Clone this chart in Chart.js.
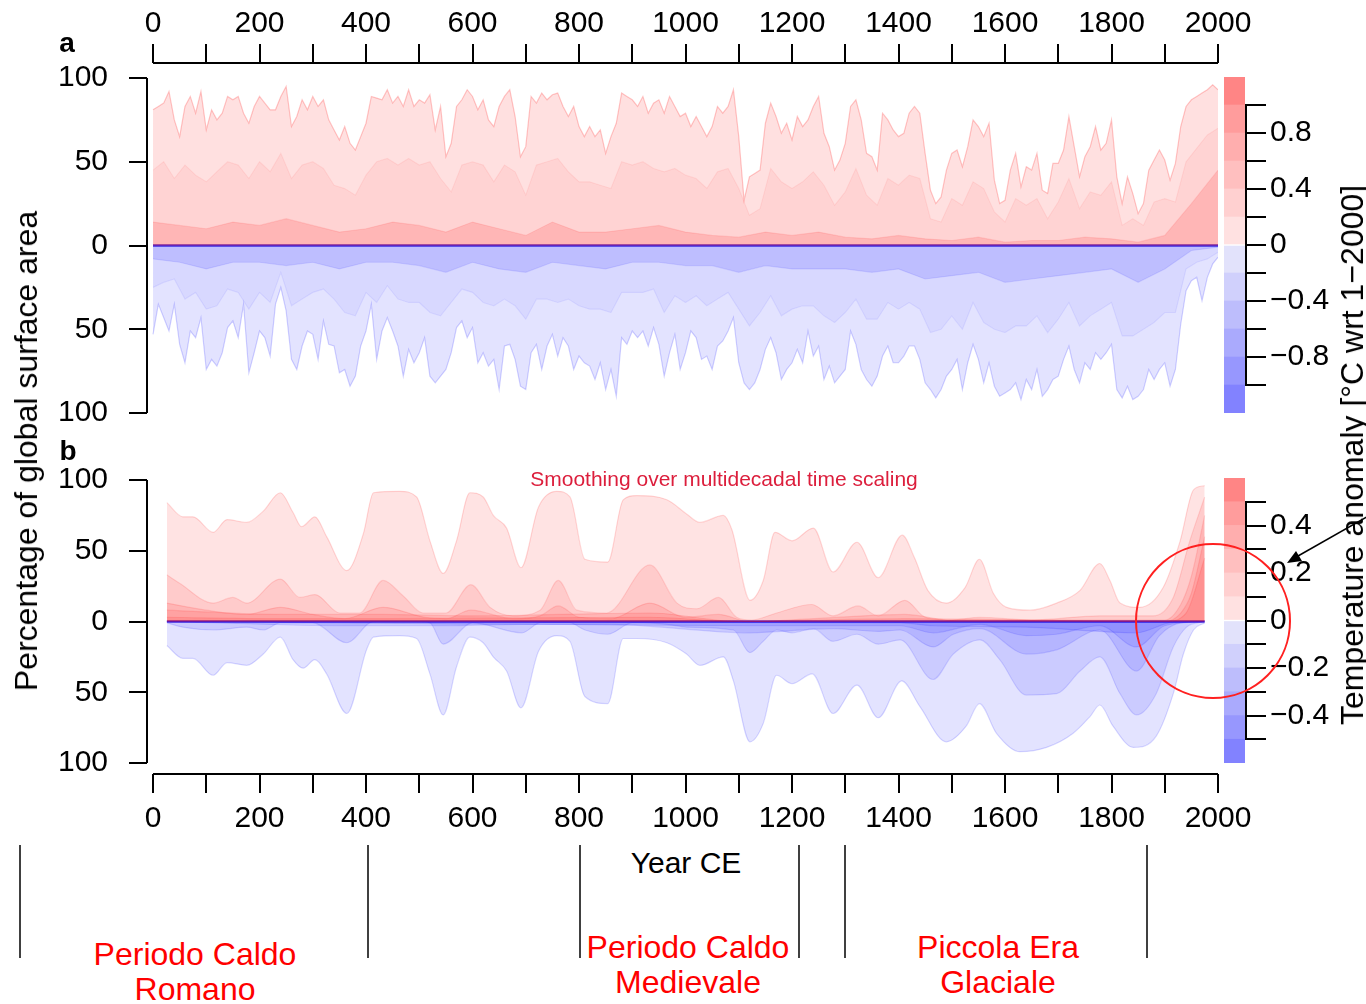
<!DOCTYPE html>
<html>
<head>
<meta charset="utf-8">
<script src="https://cdn.jsdelivr.net/npm/chart.js@4.4.1/dist/chart.umd.min.js"></script>
<style>
  body { margin: 0; background: #fff; width: 1366px; height: 1004px; overflow: hidden; position: relative;
         font-family: "Liberation Sans", Arial, sans-serif; }
  canvas { position: absolute; }
  .c { position: absolute; transform: translate(-50%, -50%); white-space: nowrap; line-height: 1; color: #000; }
  .rot { transform: translate(-50%, -50%) rotate(-90deg); }
  .period { color: #ff0000; font-size: 32px; line-height: 35px; text-align: center; }
  svg { position: absolute; left: 0; top: 0; }
</style>
</head>
<body>
<canvas id="chartA" width="1366" height="430" style="left:0;top:0"></canvas>
<canvas id="chartB" width="1366" height="400" style="left:0;top:440px"></canvas>
<canvas id="barA" width="166" height="370" style="left:1200px;top:60px"></canvas>
<canvas id="barB" width="166" height="320" style="left:1200px;top:460px"></canvas>

<div class="c" style="left:67px;top:43px;font-size:28px;font-weight:bold">a</div>
<div class="c" style="left:68px;top:451px;font-size:28px;font-weight:bold">b</div>
<div class="c rot" style="left:26px;top:451px;font-size:32px">Percentage of global surface area</div>
<div class="c rot" style="left:1352px;top:455px;font-size:32px">Temperature anomaly [°C wrt 1−2000]</div>
<div class="c" style="left:724px;top:478px;font-size:21px;color:rgb(220,30,60)">Smoothing over multidecadal time scaling</div>
<div class="c" style="left:686px;top:863px;font-size:30px">Year CE</div>
<div class="c period" style="left:195px;top:972px">Periodo Caldo<br>Romano</div>
<div class="c period" style="left:688px;top:965px">Periodo Caldo<br>Medievale</div>
<div class="c period" style="left:998px;top:965px">Piccola Era<br>Glaciale</div>

<svg width="1366" height="1004">
  <g stroke="#000" stroke-width="1.5">
    <line x1="20" y1="845" x2="20" y2="958"/>
    <line x1="368" y1="845" x2="368" y2="958"/>
    <line x1="580" y1="845" x2="580" y2="958"/>
    <line x1="799" y1="845" x2="799" y2="958"/>
    <line x1="845" y1="845" x2="845" y2="958"/>
    <line x1="1147" y1="845" x2="1147" y2="958"/>
  </g>
  <circle cx="1213" cy="621" r="77" fill="none" stroke="#ff2020" stroke-width="2"/>
  <line x1="1370" y1="515" x2="1298" y2="556" stroke="#000" stroke-width="1.5"/>
  <polygon points="1287,563 1302,561 1296,551" fill="#000"/>
</svg>

<script>
//=========================== Data ===========================

// panel a: annual maps, outer envelope read every 10 years (0..2000)
var redA1 = [
  81, 83, 85, 92, 75, 65, 83, 89, 79, 92,
  69, 81, 75, 79, 89, 87, 89, 79, 73, 83,
  89, 85, 81, 81, 89, 95, 71, 77, 87, 81,
  89, 83, 87, 75, 69, 63, 71, 61, 57, 65,
  73, 89, 88, 87, 93, 85, 89, 83, 93, 83,
  87, 85, 90, 69, 83, 53, 61, 83, 87, 93,
  89, 81, 87, 75, 71, 83, 89, 93, 77, 53,
  59, 89, 85, 91, 87, 90, 91, 83, 77, 83,
  71, 65, 71, 65, 69, 55, 65, 73, 91, 89,
  87, 83, 89, 79, 85, 87, 79, 89, 83, 77,
  79, 71, 77, 71, 65, 71, 83, 79, 83, 93,
  65, 27, 41, 43, 45, 73, 85, 77, 67, 73,
  63, 77, 71, 75, 83, 89, 67, 59, 45, 51,
  61, 83, 87, 75, 55, 53, 45, 79, 75, 69,
  65, 67, 79, 83, 79, 55, 33, 25, 29, 45,
  55, 57, 47, 59, 75, 71, 65, 73, 39, 25,
  27, 45, 55, 35, 47, 45, 55, 33, 31, 49,
  49, 57, 77, 59, 41, 53, 59, 71, 57, 61,
  75, 41, 25, 41, 31, 19, 25, 45, 51, 57,
  51, 39, 49, 71, 83, 87, 89, 91, 93, 96,
  93
];
var blueA1 = [
  53, 35, 43, 51, 35, 59, 70, 51, 55, 43,
  74, 68, 72, 64, 49, 45, 55, 35, 76, 64,
  51, 55, 66, 35, 25, 39, 68, 74, 60, 51,
  53, 68, 45, 59, 60, 76, 74, 84, 78, 60,
  51, 35, 68, 51, 43, 51, 60, 78, 62, 70,
  64, 55, 78, 82, 78, 74, 64, 49, 45, 55,
  49, 70, 64, 72, 68, 86, 60, 59, 68, 84,
  86, 64, 59, 74, 60, 53, 66, 55, 60, 74,
  66, 70, 72, 80, 70, 86, 74, 90, 55, 59,
  51, 55, 51, 60, 49, 59, 78, 64, 53, 74,
  64, 51, 55, 68, 66, 74, 60, 57, 51, 43,
  70, 82, 86, 82, 74, 62, 55, 64, 80, 74,
  70, 62, 70, 51, 66, 60, 80, 72, 82, 78,
  74, 51, 59, 74, 80, 84, 78, 66, 60, 70,
  70, 66, 60, 60, 68, 82, 86, 91, 86, 78,
  74, 68, 86, 70, 59, 68, 82, 70, 84, 90,
  88, 86, 82, 92, 80, 86, 74, 90, 86, 80,
  78, 68, 60, 74, 82, 70, 74, 64, 68, 64,
  59, 86, 91, 84, 92, 90, 86, 74, 80, 74,
  70, 84, 74, 47, 27, 21, 19, 33, 19, 11,
  7
];
// middle layer, every 20 years
var redA2 = [
  45, 50, 40, 48, 42, 38, 44, 50, 48, 40,
  50, 44, 55, 40, 48, 50, 46, 36, 34, 30,
  42, 50, 52, 48, 52, 48, 50, 40, 32, 48,
  50, 48, 38, 48, 44, 30, 48, 50, 52, 44,
  38, 38, 36, 34, 50, 48, 50, 46, 44, 46,
  42, 40, 34, 44, 46, 34, 18, 22, 46, 38,
  34, 38, 44, 36, 24, 32, 46, 30, 24, 40,
  36, 42, 40, 16, 14, 28, 24, 38, 34, 20,
  14, 28, 24, 28, 16, 26, 40, 22, 32, 30,
  38, 12, 16, 12, 26, 28, 26, 50, 58, 66,
  70
];
var blueA2 = [
  25, 22, 20, 32, 28, 38, 36, 26, 28, 38,
  28, 34, 16, 36, 32, 28, 26, 32, 40, 42,
  28, 34, 24, 32, 34, 34, 40, 42, 34, 26,
  28, 34, 36, 32, 36, 44, 32, 32, 34, 32,
  36, 38, 38, 40, 28, 28, 28, 26, 40, 30,
  34, 30, 36, 32, 28, 38, 48, 40, 30, 42,
  38, 36, 36, 42, 46, 40, 32, 44, 44, 34,
  38, 34, 38, 52, 50, 42, 50, 34, 46, 50,
  52, 48, 48, 42, 52, 44, 34, 48, 42, 38,
  34, 54, 54, 50, 46, 40, 40, 14, 10, 8,
  4
];
// inner layer, every 50 years
var redA3 = [14, 12, 10, 14, 12, 16, 12, 8, 10, 14, 12, 8, 14, 10, 6, 14, 8, 8, 10, 12,
             8, 6, 5, 8, 6, 8, 5, 4, 6, 4, 3, 5, 2, 3, 3, 5, 4, 2, 6, 25, 45];
var blueA3 = [8, 10, 14, 10, 10, 12, 10, 14, 10, 10, 12, 16, 10, 14, 16, 10, 12, 14, 10, 10,
              12, 12, 16, 12, 14, 14, 14, 16, 14, 20, 18, 16, 22, 20, 18, 16, 14, 22, 14, 3, 1];

// panel b: multidecadal smoothing, one pair of arrays per threshold layer
var yrsRedB1 = [26, 56, 75, 113, 139, 176, 207, 239, 263, 279, 304, 326, 364, 395, 414, 463, 495, 520, 545, 570,
                595, 620, 639, 664, 691, 724, 758, 783, 811, 854, 883, 908, 965, 1002, 1027, 1071, 1087, 1121, 1146, 1168,
                1200, 1240, 1277, 1322, 1362, 1407, 1430, 1455, 1490, 1525, 1552, 1578, 1603, 1647, 1697, 1741, 1778, 1797, 1816, 1853,
                1897, 1929, 1954, 1975];
var redB1 = [84, 74, 74, 63, 72, 70, 78, 91, 77, 67, 74, 60, 36, 62, 91, 92, 88, 57, 34, 57,
             91, 88, 75, 66, 38, 81, 92, 88, 44, 42, 86, 89, 86, 76, 70, 75, 65, 15, 29, 63,
             57, 66, 35, 56, 31, 61, 45, 22, 13, 24, 44, 20, 10, 8, 13, 22, 41, 29, 13, 10,
             24, 57, 93, 96];
var yrsRedB2 = [26, 50, 113, 150, 176, 239, 276, 304, 351, 388, 432, 470, 507, 550, 597, 633, 676, 727, 761, 796,
                852, 933, 984, 1021, 1062, 1096, 1124, 1171, 1237, 1277, 1324, 1362, 1412, 1450, 1500, 1552, 1650, 1778, 1878, 1916,
                1947, 1975];
var redB2 = [33, 27, 13, 17, 13, 30, 17, 19, 6, 6, 29, 18, 6, 6, 26, 10, 4, 8, 29, 8,
             6, 40, 13, 9, 17, 3, 1, 6, 12, 4, 11, 4, 15, 3, 1, 3, 1, 4, 4, 17,
             57, 88];
var yrsRedB3 = [26, 100, 176, 239, 300, 360, 432, 510, 550, 597, 676, 727, 761, 800, 860, 933, 1000, 1062, 1120, 1240,
                1412, 1500, 1900, 1930, 1950, 1975];
var redB3 = [13, 8, 5, 10, 5, 2, 10, 3, 2, 8, 2, 4, 11, 3, 2, 13, 3, 5, 0, 2,
             5, 1, 1, 12, 32, 75];
var yrsRedB4 = [26, 239, 432, 597, 761, 933, 1100, 1412, 1900, 1930, 1950, 1975];
var redB4 = [8, 5, 5, 4, 5, 6, 0, 2, 0, 6, 20, 60];
var yrsRedB5 = [26, 239, 432, 933, 1100, 1900, 1940, 1975];
var redB5 = [3, 2, 2, 3, 0, 0, 6, 45];

var yrsBlueB1 = [26, 56, 75, 113, 139, 176, 207, 239, 263, 282, 304, 326, 364, 401, 414, 463, 495, 520, 545, 570,
                 595, 620, 639, 664, 691, 724, 758, 783, 811, 854, 883, 908, 965, 1002, 1027, 1071, 1090, 1121, 1146, 1171,
                 1200, 1238, 1277, 1322, 1362, 1406, 1440, 1490, 1527, 1552, 1584, 1628, 1678, 1728, 1760, 1778, 1803, 1841, 1884, 1916,
                 1935, 1954, 1975];
var blueB1 = [17, 26, 26, 38, 29, 31, 23, 11, 27, 33, 27, 37, 65, 20, 11, 10, 12, 37, 66, 32,
              11, 15, 25, 35, 61, 21, 10, 14, 53, 58, 12, 12, 15, 23, 31, 25, 42, 85, 72, 38,
              44, 37, 65, 45, 68, 42, 60, 85, 74, 58, 79, 92, 89, 79, 67, 59, 74, 89, 81, 51,
              23, 6, 1];
var yrsBlueB2 = [26, 56, 113, 176, 207, 239, 300, 364, 414, 495, 520, 545, 600, 693, 727, 783, 811, 854, 900, 965,
                 1002, 1090, 1121, 1146, 1171, 1200, 1240, 1277, 1322, 1362, 1403, 1465, 1503, 1553, 1590, 1640, 1697, 1741, 1778, 1816,
                 1847, 1884, 1916, 1941, 1975];
var blueB2 = [1, 4, 6, 4, 6, 1, 1, 15, 0, 0, 1, 16, 1, 8, 1, 1, 6, 9, 1, 2,
              4, 6, 22, 14, 6, 8, 5, 14, 9, 16, 13, 41, 23, 13, 27, 52, 51, 35, 25, 51,
              66, 51, 18, 4, 0];
var yrsBlueB3 = [26, 364, 545, 693, 854, 1121, 1277, 1362, 1403, 1465, 1503, 1553, 1640, 1697, 1778, 1847, 1890, 1930, 1975];
var blueB3 = [0, 3, 3, 2, 2, 8, 5, 7, 6, 18, 9, 5, 23, 20, 6, 35, 10, 1, 0];
var yrsBlueB4 = [26, 1121, 1403, 1465, 1553, 1640, 1697, 1778, 1847, 1900, 1975];
var blueB4 = [0, 3, 3, 8, 2, 10, 9, 3, 18, 3, 0];
var yrsBlueB5 = [26, 1403, 1465, 1640, 1847, 1910, 1975];
var blueB5 = [0, 1, 3, 4, 8, 1, 0];

// axes
var yearTicks = [0, 100, 200, 300, 400, 500, 600, 700, 800, 900, 1000,
                 1100, 1200, 1300, 1400, 1500, 1600, 1700, 1800, 1900, 2000];
var pctTicks = [-100, -50, 0, 50, 100];

// colour bars
var cbEdgesA = [-1.2, -1.0, -0.8, -0.6, -0.4, -0.2, 0, 0.2, 0.4, 0.6, 0.8, 1.0, 1.2];
var cbTicksA = [-1.0, -0.8, -0.6, -0.4, -0.2, 0, 0.2, 0.4, 0.6, 0.8, 1.0];
var cbLabelsA = [-0.8, -0.4, 0, 0.4, 0.8];
var cbEdgesB = [-0.6, -0.5, -0.4, -0.3, -0.2, -0.1, 0, 0.1, 0.2, 0.3, 0.4, 0.5, 0.6];
var cbTicksB = [-0.5, -0.4, -0.3, -0.2, -0.1, 0, 0.1, 0.2, 0.3, 0.4, 0.5];
var cbLabelsB = [-0.4, -0.2, 0, 0.2, 0.4];
var cbColors = ['#8282ff', '#9797fe', '#aaaafd', '#bdbdfc', '#d0d0fc', '#e2e2fb',
                '#ffe1e1', '#ffd0d0', '#ffbfbf', '#ffaeae', '#ff9c9c', '#ff8585'];

//=========================== Helpers ===========================

var FONT = '"Liberation Sans", Arial, sans-serif';
Chart.defaults.font.family = FONT;
Chart.defaults.color = '#000';

function stepYears(n, step) {
    return Array.from({ length: n }, function(_, i) { return i * step; });
}

function pts(years, vals, sign) {
    return years.map(function(x, i) { return { x: x, y: sign * vals[i] }; });
}

function area(points, rgb, fillA, lineA, smooth) {
    return {
        data: points,
        fill: 'origin',
        backgroundColor: 'rgba(' + rgb + ',' + fillA + ')',
        borderColor: 'rgba(' + rgb + ',' + lineA + ')',
        borderWidth: 1.2,
        pointRadius: 0,
        tension: 0,
        cubicInterpolationMode: smooth ? 'monotone' : 'default'
    };
}

function zeroLine(x0, x1) {
    return {
        data: [{ x: x0, y: 0 }, { x: x1, y: 0 }],
        borderColor: 'rgb(85,55,215)',
        borderWidth: 2.5,
        pointRadius: 0,
        fill: false
    };
}

// R-style axis lines that run from the first to the last tick only
var rAxis = {
    id: 'rAxis',
    afterDraw: function(chart, args, opts) {
        var ctx = chart.ctx, ca = chart.chartArea;
        ctx.save();
        ctx.strokeStyle = '#000';
        ctx.lineWidth = 2;
        (opts.lines || []).forEach(function(l) {
            var sc = chart.scales[l.scale];
            var a = sc.getPixelForValue(l.from), b = sc.getPixelForValue(l.to);
            ctx.beginPath();
            if (sc.isHorizontal()) {
                var y = l.edge === 'top' ? ca.top : ca.bottom;
                ctx.moveTo(a, y); ctx.lineTo(b, y);
            } else {
                var x = l.edge === 'left' ? ca.left : ca.right + 1;
                ctx.moveTo(x, a); ctx.lineTo(x, b);
            }
            ctx.stroke();
        });
        ctx.restore();
    }
};

function gridTicks(len) {
    return { drawOnChartArea: false, drawTicks: true, tickLength: len, lineWidth: 2, tickWidth: 2, tickColor: '#000', color: '#000' };
}

// fixed width for a vertical scale, without the extra room for half a label at each end
function fixVertical(width) {
    return function(s) { s.width = width; s.paddingTop = 0; s.paddingBottom = 0; };
}

function panelOptions(xPos, xHeight, yMin, yMax, pad, xPad) {
    return {
        responsive: false,
        animation: false,
        devicePixelRatio: 1,
        layout: { padding: pad },
        plugins: {
            legend: { display: false },
            tooltip: { enabled: false },
            rAxis: { lines: [
                { scale: 'x', from: 0, to: 2000, edge: xPos },
                { scale: 'y', from: -100, to: 100, edge: 'left' }
            ] }
        },
        scales: {
            x: {
                type: 'linear', position: xPos, min: -11.3, max: 2000,
                afterBuildTicks: function(s) { s.ticks = yearTicks.map(function(v) { return { value: v }; }); },
                afterFit: function(s) { s.height = xHeight; },
                grid: gridTicks(19),
                border: { display: false },
                ticks: {
                    autoSkip: false, maxRotation: 0, padding: xPad, color: '#000',
                    font: { size: 30 },
                    callback: function(v) { return v % 200 === 0 ? String(v) : ''; }
                }
            },
            y: {
                type: 'linear', min: yMin, max: yMax,
                afterBuildTicks: function(s) { s.ticks = pctTicks.map(function(v) { return { value: v }; }); },
                afterFit: fixVertical(147),
                grid: gridTicks(18),
                border: { display: false },
                ticks: {
                    autoSkip: false, padding: 21, color: '#000', font: { size: 30 },
                    callback: function(v) { return String(Math.abs(v)); }
                }
            }
        }
    };
}

//=========================== Panel a =================================

var yrs10 = stepYears(redA1.length, 10);
var yrs20 = stepYears(redA2.length, 20);
var yrs50 = stepYears(redA3.length, 50);

new Chart(document.getElementById('chartA').getContext('2d'), {
    type: 'line',
    data: {
        datasets: [
            area(pts(yrs10, redA1, 1), '255,0,0', 0.12, 0.22, false),
            area(pts(yrs20, redA2, 1), '255,0,0', 0.06, 0.07, false),
            area(pts(yrs50, redA3, 1), '255,0,0', 0.14, 0.1, false),
            area(pts(yrs10, blueA1, -1), '0,0,255', 0.11, 0.18, false),
            area(pts(yrs20, blueA2, -1), '0,0,255', 0.05, 0.07, false),
            area(pts(yrs50, blueA3, -1), '0,0,255', 0.12, 0.1, false),
            zeroLine(yrs10[0], yrs10[yrs10.length - 1])
        ]
    },
    options: panelOptions('top', 63, -100, 108.96, { left: 0, right: 148, top: 0, bottom: 17 }, 2),
    plugins: [rAxis]
});

//=========================== Panel b =================================

new Chart(document.getElementById('chartB').getContext('2d'), {
    type: 'line',
    data: {
        datasets: [
            area(pts(yrsRedB1, redB1, 1), '255,0,0', 0.11, 0.15, true),
            area(pts(yrsRedB2, redB2, 1), '255,0,0', 0.11, 0.12, true),
            area(pts(yrsRedB3, redB3, 1), '255,0,0', 0.11, 0.12, true),
            area(pts(yrsRedB4, redB4, 1), '255,0,0', 0.11, 0.12, true),
            area(pts(yrsRedB5, redB5, 1), '255,0,0', 0.11, 0.12, true),
            area(pts(yrsBlueB1, blueB1, -1), '0,0,255', 0.11, 0.15, true),
            area(pts(yrsBlueB2, blueB2, -1), '0,0,255', 0.11, 0.12, true),
            area(pts(yrsBlueB3, blueB3, -1), '0,0,255', 0.11, 0.12, true),
            area(pts(yrsBlueB4, blueB4, -1), '0,0,255', 0.11, 0.12, true),
            area(pts(yrsBlueB5, blueB5, -1), '0,0,255', 0.11, 0.12, true),
            zeroLine(yrsRedB1[0], yrsRedB1[yrsRedB1.length - 1])
        ]
    },
    options: panelOptions('bottom', 66, -107.77, 100, { left: 0, right: 148, top: 40, bottom: 0 }, 8),
    plugins: [rAxis]
});

//=========================== Colour bars =================================

function colourBar(id, edges, ticks, labels, padTop, padBottom) {
    var sets = edges.slice(0, -1).map(function(lo, i) {
        return {
            data: [[lo, edges[i + 1]]],
            backgroundColor: cbColors[i],
            borderWidth: 0,
            barPercentage: 1,
            categoryPercentage: 1,
            grouped: false
        };
    });
    return new Chart(document.getElementById(id).getContext('2d'), {
        type: 'bar',
        data: { labels: [''], datasets: sets },
        options: {
            responsive: false,
            animation: false,
            devicePixelRatio: 1,
            layout: { padding: { left: 24, right: 0, top: padTop, bottom: padBottom } },
            plugins: {
                legend: { display: false },
                tooltip: { enabled: false },
                rAxis: { lines: [{ scale: 'y', from: ticks[0], to: ticks[ticks.length - 1], edge: 'right' }] }
            },
            scales: {
                x: { display: false },
                y: {
                    position: 'right', min: edges[0], max: edges[edges.length - 1],
                    afterBuildTicks: function(s) { s.ticks = ticks.map(function(v) { return { value: v }; }); },
                    afterFit: fixVertical(121),
                    grid: gridTicks(21),
                    border: { display: false },
                    ticks: {
                        autoSkip: false, padding: 4, color: '#000', font: { size: 30 },
                        callback: function(v) {
                            if (labels.indexOf(v) < 0) return '';
                            if (v === 0) return '0';
                            return (v < 0 ? '\u2212' : '') + Math.abs(v);
                        }
                    }
                }
            }
        },
        plugins: [rAxis]
    });
}

colourBar('barA', cbEdgesA, cbTicksA, cbLabelsA, 17, 17);
colourBar('barB', cbEdgesB, cbTicksB, cbLabelsB, 18, 17);
</script>
</body>
</html>
